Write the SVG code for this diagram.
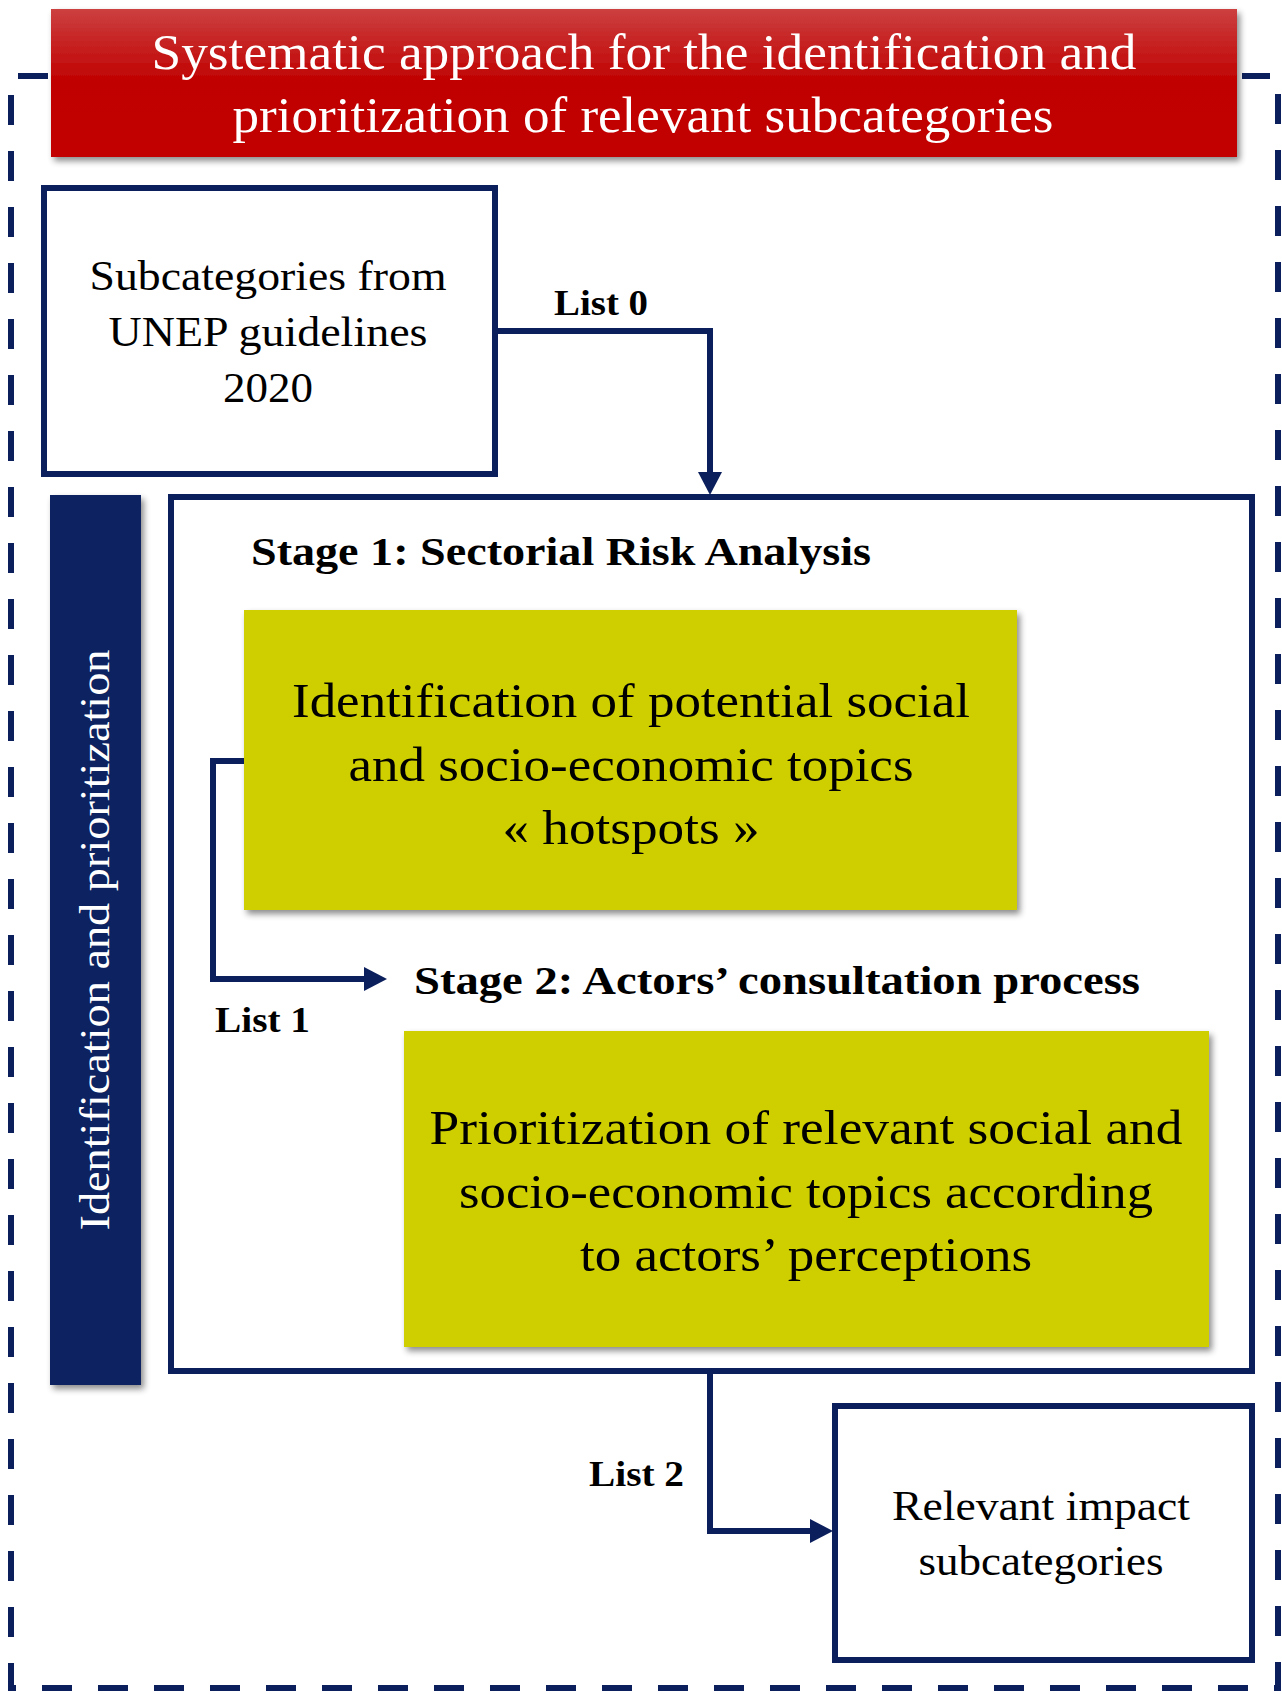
<svg xmlns="http://www.w3.org/2000/svg" width="1282" height="1694" viewBox="0 0 1282 1694">
<style>
.serif{font-family:"Liberation Serif","Times New Roman",serif;}
.bold{font-weight:bold;}
.box{fill:#ffffff;stroke:#0b1f5c;stroke-width:6;}
.yellow{fill:#cfcf00;}
.conn{fill:none;stroke:#0b1f5c;stroke-width:6;}
.dash{fill:none;stroke:#0b1f5c;stroke-width:6;stroke-dasharray:30 26;}
</style>
<defs>
<linearGradient id="redg" x1="0" y1="0" x2="0" y2="1">
<stop offset="0" stop-color="#cc4040"/>
<stop offset="0.5" stop-color="#c00000"/>
<stop offset="1" stop-color="#c20000"/>
</linearGradient>
<filter id="shadow" x="-5%" y="-5%" width="115%" height="120%">
<feDropShadow dx="3" dy="4" stdDeviation="3" flood-color="#000000" flood-opacity="0.45"/>
</filter>
</defs>
<rect width="1282" height="1694" fill="#ffffff"/>

<g id="frame">
<path class="dash" d="M48,76 H11 V1688 H1278 V76 H1242"/>
</g>

<g id="title">
<rect x="51" y="9" width="1186" height="148" fill="url(#redg)" filter="url(#shadow)"/>
<text class="serif" x="644" y="69" font-size="50" fill="#ffffff" text-anchor="middle" textLength="985" lengthAdjust="spacingAndGlyphs">Systematic approach for the identification and</text>
<text class="serif" x="643" y="132" font-size="50" fill="#ffffff" text-anchor="middle" textLength="821" lengthAdjust="spacingAndGlyphs">prioritization of relevant subcategories</text>
</g>

<g id="unep">
<rect class="box" x="44" y="188" width="451" height="286"/>
<text class="serif" x="268" y="290" font-size="43" fill="#000" text-anchor="middle" textLength="357" lengthAdjust="spacingAndGlyphs">Subcategories from</text>
<text class="serif" x="268" y="346" font-size="43" fill="#000" text-anchor="middle" textLength="319" lengthAdjust="spacingAndGlyphs">UNEP guidelines</text>
<text class="serif" x="268" y="402" font-size="43" fill="#000" text-anchor="middle" textLength="90" lengthAdjust="spacingAndGlyphs">2020</text>
</g>

<g id="sidebar">
<rect x="50" y="495" width="91" height="890" fill="#0b2160" filter="url(#shadow)"/>
<text class="serif" transform="translate(109,940) rotate(-90)" x="0" y="0" font-size="42" fill="#ffffff" text-anchor="middle" textLength="581" lengthAdjust="spacingAndGlyphs">Identification and prioritization</text>
</g>

<g id="stages">
<rect class="box" x="171" y="497" width="1081" height="874"/>
<text class="serif bold" x="251" y="565" font-size="40" fill="#000" textLength="620" lengthAdjust="spacingAndGlyphs">Stage 1: Sectorial Risk Analysis</text>
<text class="serif bold" x="414" y="994" font-size="40" fill="#000" textLength="726" lengthAdjust="spacingAndGlyphs">Stage 2: Actors’ consultation process</text>
</g>

<g id="hotspots">
<rect class="yellow" x="244" y="610" width="773" height="300" filter="url(#shadow)"/>
<text class="serif" x="631" y="717" font-size="49" fill="#000" text-anchor="middle" textLength="678" lengthAdjust="spacingAndGlyphs">Identification of potential social</text>
<text class="serif" x="631" y="781" font-size="49" fill="#000" text-anchor="middle" textLength="565" lengthAdjust="spacingAndGlyphs">and socio-economic topics</text>
<text class="serif" x="631" y="844" font-size="49" fill="#000" text-anchor="middle" textLength="257" lengthAdjust="spacingAndGlyphs">« hotspots »</text>
</g>

<g id="prioritization">
<rect class="yellow" x="404" y="1031" width="805" height="316" filter="url(#shadow)"/>
<text class="serif" x="806" y="1144" font-size="49" fill="#000" text-anchor="middle" textLength="753" lengthAdjust="spacingAndGlyphs">Prioritization of relevant social and</text>
<text class="serif" x="806" y="1208" font-size="49" fill="#000" text-anchor="middle" textLength="694" lengthAdjust="spacingAndGlyphs">socio-economic topics according</text>
<text class="serif" x="806" y="1271" font-size="49" fill="#000" text-anchor="middle" textLength="452" lengthAdjust="spacingAndGlyphs">to actors’ perceptions</text>
</g>

<g id="relevant">
<rect class="box" x="835" y="1406" width="417" height="254"/>
<text class="serif" x="1041" y="1520" font-size="42" fill="#000" text-anchor="middle" textLength="298" lengthAdjust="spacingAndGlyphs">Relevant impact</text>
<text class="serif" x="1041" y="1575" font-size="42" fill="#000" text-anchor="middle" textLength="245" lengthAdjust="spacingAndGlyphs">subcategories</text>
</g>

<g id="connectors">
<path class="conn" d="M495,331 H710 V474"/>
<path d="M698,472 L722,472 L710,495 Z" fill="#0b1f5c"/>
<text class="serif bold" x="554" y="315" font-size="36" fill="#000" textLength="94" lengthAdjust="spacingAndGlyphs">List 0</text>

<path class="conn" d="M244,761 H213 V979 H367"/>
<path d="M364,967 L364,991 L387,979 Z" fill="#0b1f5c"/>
<text class="serif bold" x="215" y="1032" font-size="36" fill="#000" textLength="95" lengthAdjust="spacingAndGlyphs">List 1</text>

<path class="conn" d="M710,1371 V1531 H812"/>
<path d="M810,1519 L810,1543 L833,1531 Z" fill="#0b1f5c"/>
<text class="serif bold" x="589" y="1486" font-size="36" fill="#000" textLength="95" lengthAdjust="spacingAndGlyphs">List 2</text>
</g>
</svg>
